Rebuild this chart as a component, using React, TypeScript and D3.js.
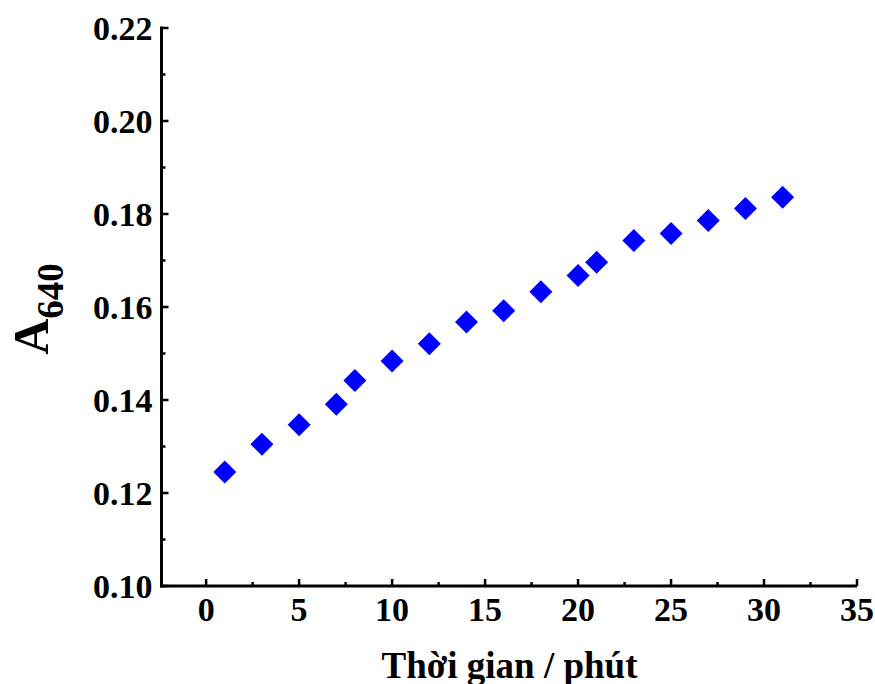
import React from "react";
import * as d3 from "d3";

const times = [1, 3, 5, 7, 8, 10, 12, 14, 16, 18, 20, 21, 23, 25, 27, 29, 31];
const absorbance = [0.1245, 0.1305, 0.1347, 0.1391, 0.1442, 0.1484, 0.1521, 0.1568, 0.1592, 0.1633, 0.1668, 0.1696, 0.1743, 0.1758, 0.1786, 0.1812, 0.1836];
const xTicks = [0, 5, 10, 15, 20, 25, 30, 35];
const yTicks = [0.10, 0.12, 0.14, 0.16, 0.18, 0.20, 0.22];
const xMinor = [2.5, 7.5, 12.5, 17.5, 22.5, 27.5, 32.5];
const yMinor = [0.11, 0.13, 0.15, 0.17, 0.19, 0.21];

const W = 875, H = 684;
const left = 161.5, right = 857, top = 28, bottom = 586;

export default function App() {
  const x = d3.scaleLinear().domain([-2.4, 35]).range([left, right]);
  const y = d3.scaleLinear().domain([0.10, 0.22]).range([bottom, top]);
  const font = "'Liberation Serif', 'Times New Roman', serif";
  const r = 11.5;
  return (
    <svg width={W} height={H} style={{ position: "absolute", left: 0, top: 0, background: "#fff" }}>
      <g fill="#0000ff">
        {times.map((t, i) => {
          const cx = x(t), cy = y(absorbance[i]);
          return <path key={i} d={`M${cx},${cy - r}L${cx + r},${cy}L${cx},${cy + r}L${cx - r},${cy}Z`} />;
        })}
      </g>
      <g stroke="#000" fill="none">
        <line x1={left} x2={left} y1={top - 1.5} y2={bottom + 1.5} strokeWidth={3} />
        <line x1={left - 1.5} x2={right} y1={bottom} y2={bottom} strokeWidth={3} />
        {xTicks.map((t) => (
          <line key={t} x1={x(t)} x2={x(t)} y1={bottom} y2={bottom - 7} strokeWidth={2.5} />
        ))}
        {xMinor.map((t) => (
          <line key={t} x1={x(t)} x2={x(t)} y1={bottom} y2={bottom - 4} strokeWidth={2.5} />
        ))}
        {yTicks.map((t) => (
          <line key={t} x1={left} x2={left + 7} y1={y(t)} y2={y(t)} strokeWidth={2.5} />
        ))}
        {yMinor.map((t) => (
          <line key={t} x1={left} x2={left + 4} y1={y(t)} y2={y(t)} strokeWidth={2.5} />
        ))}
      </g>
      <g fontFamily={font} fontWeight="bold" fontSize={34} fill="#000">
        {yTicks.map((t) => (
          <text key={t} x={left - 9} y={y(t)} dy="0.35em" textAnchor="end">{t.toFixed(2)}</text>
        ))}
        {xTicks.map((t) => (
          <text key={t} x={x(t)} y={bottom + 35} textAnchor="middle">{t}</text>
        ))}
        <text x={509.5} y={678} textAnchor="middle" fontSize={37}>Thời gian / phút</text>
        <text transform={`translate(48,309) rotate(-90)`} textAnchor="middle" fontSize={50}>
          A<tspan fontSize={37} dy={15}>640</tspan>
        </text>
      </g>
    </svg>
  );
}
